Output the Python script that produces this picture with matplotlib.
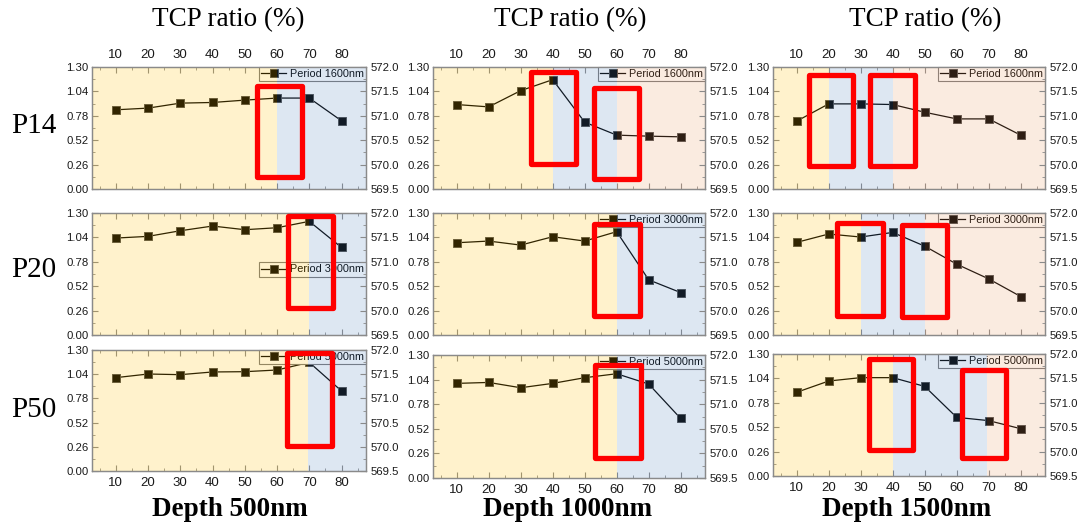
import matplotlib
matplotlib.use("Agg")
import matplotlib.pyplot as plt
from matplotlib.patches import Rectangle
from matplotlib.ticker import MultipleLocator, FormatStrFormatter

# ---------------- data ----------------
tcp_ratio = [10, 20, 30, 40, 50, 60, 70, 80]
depth_titles = ["Depth 500nm", "Depth 1000nm", "Depth 1500nm"]
period_rows = ["P14", "P20", "P50"]
period_labels = ["Period 1600nm", "Period 3000nm", "Period 5000nm"]

p14_d500 = [0.844, 0.862, 0.915, 0.922, 0.947, 0.969, 0.969, 0.727]
p14_d1000 = [0.900, 0.875, 1.048, 1.165, 0.712, 0.574, 0.563, 0.556]
p14_d1500 = [0.723, 0.907, 0.907, 0.900, 0.818, 0.747, 0.747, 0.574]
p20_d500 = [1.033, 1.051, 1.111, 1.161, 1.122, 1.143, 1.211, 0.933]
p20_d1000 = [0.983, 1.001, 0.958, 1.047, 1.001, 1.101, 0.588, 0.452]
p20_d1500 = [0.987, 1.076, 1.044, 1.093, 0.947, 0.755, 0.598, 0.410]
p50_d500 = [1.003, 1.042, 1.035, 1.064, 1.067, 1.085, 1.167, 0.860]
p50_d1000 = [1.000, 1.010, 0.954, 1.000, 1.060, 1.102, 0.993, 0.629]
p50_d1500 = [0.892, 1.012, 1.048, 1.048, 0.955, 0.625, 0.590, 0.504]

series = [[p14_d500, p14_d1000, p14_d1500],
          [p20_d500, p20_d1000, p20_d1500],
          [p50_d500, p50_d1000, p50_d1500]]

# zone boundaries along the TCP-ratio axis for every panel
zone_edges = [[[60], [40, 60], [20, 40]],
              [[70], [60], [30, 50]],
              [[69.5], [60], [40, 69.5]]]

# highlighted windows (x0, x1, y0, y1) in left-axis data units
highlights = [
    [[(53.8, 67.6, 0.130, 1.100)],
     [(33.2, 47.3, 0.264, 1.252), (53.0, 67.1, 0.104, 1.071)],
     [(13.7, 27.7, 0.240, 1.217), (32.9, 47.1, 0.240, 1.217)]],
    [[(63.4, 77.4, 0.286, 1.263)],
     [(53.0, 67.3, 0.204, 1.185)],
     [(22.7, 36.9, 0.205, 1.191), (42.9, 56.9, 0.194, 1.173)]],
    [[(63.0, 77.1, 0.271, 1.273)],
     [(53.2, 67.6, 0.214, 1.192)],
     [(32.6, 46.2, 0.275, 1.245), (61.6, 75.3, 0.190, 1.132)]],
]

# ---------------- layout / style ----------------
W, H = 1083, 524
col_x = [(92, 366), (433, 705), (773, 1045)]
row_y = [[(67, 189), (67, 189), (67, 189)],
         [(213, 335), (213, 335), (213, 335)],
         [(350, 471), (355, 478), (354, 476)]]

zone_colors = ["#FFBE00", "#5888C1", "#EA9B66"]
zone_alpha = 0.2
spine_gray = "#8a8a8a"
sans = "Liberation Sans"
serif = "Liberation Serif"

fig = plt.figure(figsize=(W / 100, H / 100), dpi=100)
fig.patch.set_facecolor("white")

for r in range(3):
    for c in range(3):
        x0, x1 = col_x[c]
        y0, y1 = row_y[r][c]
        ax = fig.add_axes([x0 / W, 1 - y1 / H, (x1 - x0) / W, (y1 - y0) / H])
        ax.set_facecolor("white")
        xlo, xhi = 2.6, 87.6
        ax.set_xlim(xlo, xhi)
        ax.set_ylim(0, 1.30)

        ax.plot(tcp_ratio, series[r][c], color="black", lw=0.9,
                marker="s", ms=5.2, mfc="black", mec="#4a4a4a", mew=0.7,
                label=period_labels[r], zorder=3)

        # translucent zone overlays
        edges = [xlo] + zone_edges[r][c] + [xhi]
        for k in range(len(edges) - 1):
            ax.axvspan(edges[k], edges[k + 1], color=zone_colors[k],
                       alpha=zone_alpha, lw=0, zorder=10)

        ax.xaxis.set_minor_locator(MultipleLocator(5))
        ax.set_xticks(tcp_ratio)
        ax.yaxis.set_major_locator(MultipleLocator(0.26))
        ax.yaxis.set_minor_locator(MultipleLocator(0.13))
        ax.yaxis.set_major_formatter(FormatStrFormatter("%.2f"))
        ax.xaxis.set_ticks_position("both")
        ax.tick_params(axis="x", which="both", direction="in", colors=spine_gray,
                       labelcolor="#1a1a1a", labelsize=9.5, pad=4.5,
                       labeltop=(r == 0), labelbottom=(r == 2))
        ax.tick_params(axis="x", which="major", length=4, width=0.8)
        ax.tick_params(axis="x", which="minor", length=2, width=0.6)
        ax.tick_params(axis="y", which="both", direction="in", colors=spine_gray,
                       labelcolor="#1a1a1a", labelsize=8.2, pad=2.5)
        ax.tick_params(axis="y", which="major", length=4, width=0.8)
        ax.tick_params(axis="y", which="minor", length=2, width=0.6)
        for lab in ax.get_xticklabels() + ax.get_yticklabels():
            lab.set_fontfamily(sans)
        for sp in ax.spines.values():
            sp.set_color(spine_gray)
            sp.set_linewidth(0.9)

        tw = ax.twinx()
        tw.set_ylim(569.5, 572.0)
        tw.yaxis.set_major_locator(MultipleLocator(0.5))
        tw.yaxis.set_minor_locator(MultipleLocator(0.25))
        tw.yaxis.set_major_formatter(FormatStrFormatter("%.1f"))
        tw.tick_params(axis="y", which="both", direction="in", colors=spine_gray,
                       labelcolor="#1a1a1a", labelsize=8.2, pad=3.5)
        tw.tick_params(axis="y", which="major", length=4, width=0.8)
        tw.tick_params(axis="y", which="minor", length=2, width=0.6)
        for lab in tw.get_yticklabels():
            lab.set_fontfamily(sans)
        for sp in tw.spines.values():
            sp.set_color(spine_gray)
            sp.set_linewidth(0.9)

        if r == 1 and c == 0:
            leg_kw = dict(loc="center right", bbox_to_anchor=(1.0, 0.537))
        else:
            leg_kw = dict(loc="upper right")
        leg = ax.legend(**leg_kw, borderaxespad=0, fancybox=False,
                        framealpha=1, facecolor="white", edgecolor="#7a7a7a",
                        prop={"family": sans, "size": 7.8}, handlelength=2.3,
                        handletextpad=0.35, borderpad=0.2)
        leg.set_zorder(5)
        leg.get_frame().set_linewidth(0.8)

        for (hx0, hx1, hy0, hy1) in highlights[r][c]:
            tw.add_patch(Rectangle((hx0, hy0), hx1 - hx0, hy1 - hy0,
                                   transform=ax.transData, fill=False,
                                   edgecolor="#FF0000", linewidth=3.8,
                                   joinstyle="round", clip_on=False, zorder=30))

# column headings and footers
title_x = [228, 570, 925]
for c in range(3):
    fig.text(title_x[c] / W, 1 - 20 / H, "TCP ratio (%)", family=serif,
             fontsize=19.5, ha="center", va="center", color="black")

footer_x = [230, 568, 907]
for c in range(3):
    fig.text(footer_x[c] / W, 2 / H, depth_titles[c], family=serif,
             fontsize=19.5, fontweight="bold", ha="center", va="bottom",
             color="black")

row_label_y = [126, 270, 410]
for r in range(3):
    fig.text(34 / W, 1 - row_label_y[r] / H, period_rows[r], family=serif,
             fontsize=21, ha="center", va="center", color="black")

fig.savefig("out.png", dpi=100, facecolor="white")
